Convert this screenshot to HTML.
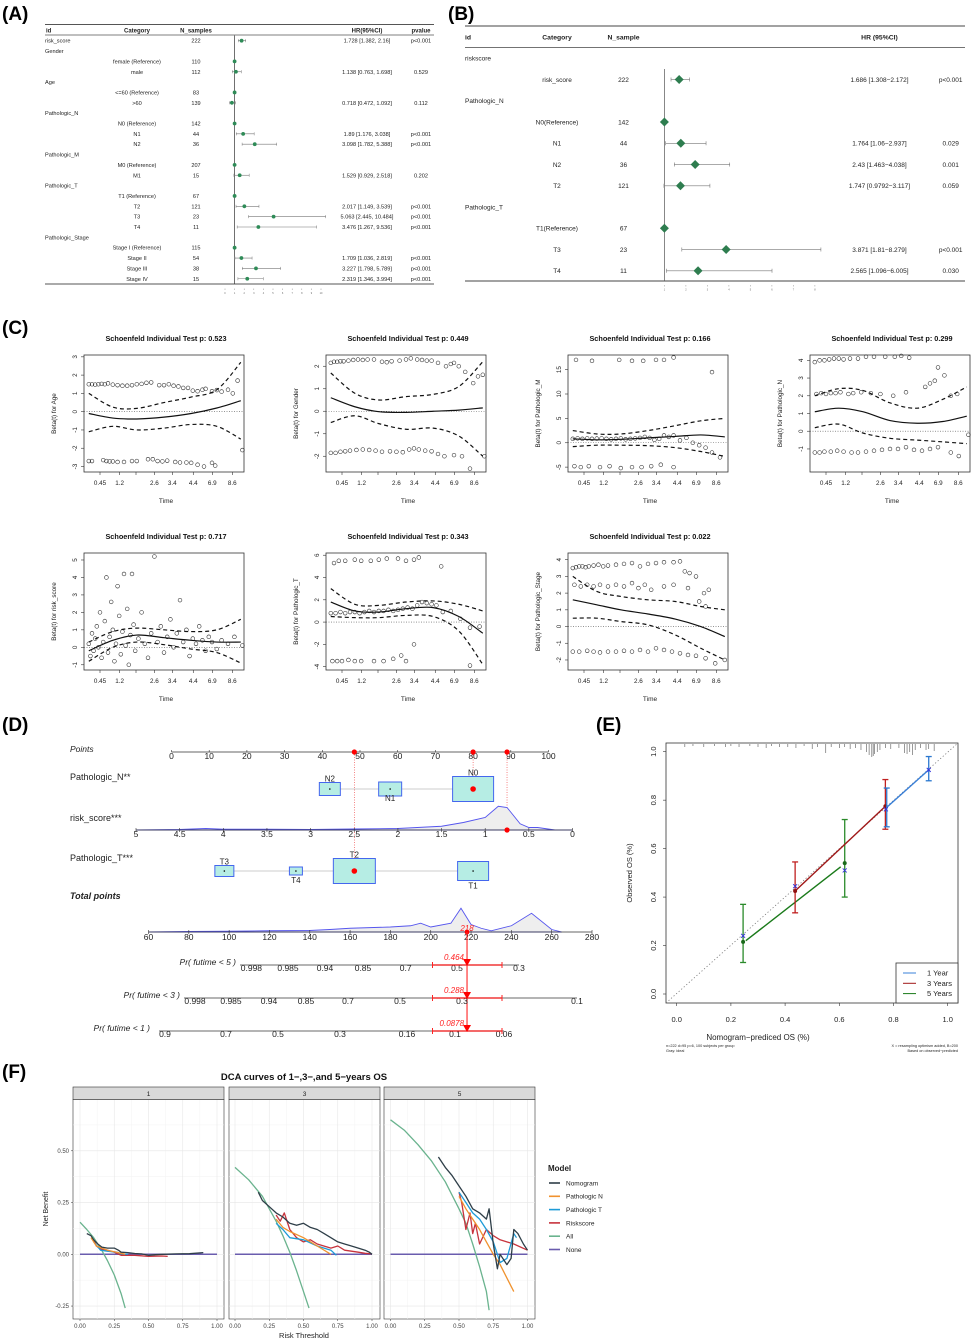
<!DOCTYPE html>
<html><head><meta charset="utf-8">
<style>
html,body{margin:0;padding:0;background:#fff;}
svg{display:block;font-family:"Liberation Sans",sans-serif;}
</style></head>
<body>
<svg id="fig" width="976" height="1340" viewBox="0 0 976 1340">
<rect x="0" y="0" width="976" height="1340" fill="#fff"/>
<text x="2" y="20" font-size="19" font-weight="bold">(A)</text>
<text x="448" y="20" font-size="19" font-weight="bold">(B)</text>
<text x="2" y="334" font-size="19" font-weight="bold">(C)</text>
<text x="2" y="731" font-size="19" font-weight="bold">(D)</text>
<text x="596" y="731" font-size="19" font-weight="bold">(E)</text>
<text x="2" y="1078" font-size="19" font-weight="bold">(F)</text>
</svg>
<script>
const NS='http://www.w3.org/2000/svg';
const svg=document.getElementById('fig');

/* ---------- Panel A data ---------- */
const aIds=['risk_score','Gender','','','Age','','','Pathologic_N','','','','Pathologic_M','','','Pathologic_T','','','','','Pathologic_Stage','','','',''];
const aCats=['','','female (Reference)','male','','<=60 (Reference)','>60','','N0 (Reference)','N1','N2','','M0 (Reference)','M1','','T1 (Reference)','T2','T3','T4','','Stage I (Reference)','Stage II','Stage III','Stage IV'];
const aN=['222','','110','112','','83','139','','142','44','36','','207','15','','67','121','23','11','','115','54','38','15'];
const aHR=[1.728,null,1,1.138,null,1,0.718,null,1,1.89,3.098,null,1,1.529,null,1,2.017,5.063,3.476,null,1,1.709,3.227,2.319];
const aLo=[1.382,null,null,0.763,null,null,0.472,null,null,1.176,1.782,null,null,0.929,null,null,1.149,2.445,1.267,null,null,1.036,1.798,1.346];
const aHi=[2.16,null,null,1.698,null,null,1.092,null,null,3.038,5.388,null,null,2.518,null,null,3.539,10.484,9.536,null,null,2.819,5.789,3.994];
const aHRtxt=['1.728 [1.382, 2.16]','','','1.138 [0.763, 1.698]','','','0.718 [0.472, 1.092]','','','1.89 [1.176, 3.038]','3.098 [1.782, 5.388]','','','1.529 [0.929, 2.518]','','','2.017 [1.149, 3.539]','5.063 [2.445, 10.484]','3.476 [1.267, 9.536]','','','1.709 [1.036, 2.819]','3.227 [1.798, 5.789]','2.319 [1.346, 3.994]'];
const aP=['p<0.001','','','0.529','','','0.112','','','p<0.001','p<0.001','','','0.202','','','p<0.001','p<0.001','p<0.001','','','p<0.001','p<0.001','p<0.001'];
const aTicks=[0,1,2,3,4,5,6,7,8,9,10];

/* ---------- Panel B data ---------- */
const bIds=['riskscore','','Pathologic_N','','','','','Pathologic_T','','',''];
const bCats=['','risk_score','','N0(Reference)','N1','N2','T2','','T1(Reference)','T3','T4'];
const bN=['','222','','142','44','36','121','','67','23','11'];
const bHR=[null,1.686,null,1,1.764,2.43,1.747,null,1,3.871,2.565];
const bLo=[null,1.308,null,null,1.06,1.463,0.9792,null,null,1.81,1.096];
const bHi=[null,2.172,null,null,2.937,4.038,3.117,null,null,8.279,6.005];
const bHRtxt=['','1.686 [1.308\u22122.172]','','','1.764 [1.06\u22122.937]','2.43 [1.463\u22124.038]','1.747 [0.9792\u22123.117]','','','3.871 [1.81\u22128.279]','2.565 [1.096\u22126.005]'];
const bP=['','p<0.001','','','0.029','0.001','0.059','','','p<0.001','0.030'];
const bTicks=[1,2,3,4,5,6,7,8];

/* ---------- Panel C data ---------- */
const cTitles=['0.523','0.449','0.166','0.299','0.717','0.343','0.022'];
const cVars=['Age','Gender','Pathologic_M','Pathologic_N','risk_score','Pathologic_T','Pathologic_Stage'];
const cYlim=[[-3.3,3.1],[-2.7,2.5],[-6,18],[-2.3,4.3],[-1.3,5.4],[-4.3,6.2],[-2.6,4.4]];
const cYticks=[[-3,-2,-1,0,1,2,3],[-2,-1,0,1,2],[-5,0,5,10,15],[-1,0,1,2,3,4],[-1,0,1,2,3,4,5],[-4,-2,0,2,4,6],[-2,-1,0,1,2,3,4]];
const cTimeLabels=['0.45','1.2','','2.6','3.4','4.4','6.9','8.6'];
const cTimeFrac=[0.10,0.223,0.325,0.44,0.552,0.683,0.802,0.927];
const cCurveX=[0.03,0.18,0.33,0.5,0.67,0.83,0.98];
const cSolid=[[-0.1,-0.35,-0.4,-0.3,-0.1,0.2,0.6],[0.6,0.2,-0.02,-0.05,0,0.05,0.15],[0.8,0.6,0.7,1.0,1.3,1.6,1.2],[1.1,1.3,1.1,0.6,0.45,0.55,0.85],[-0.2,0.4,0.7,0.55,0.4,0.3,0.3],[1.8,1.0,0.9,1.2,1.3,0.5,-1.0],[1.6,1.3,1.0,0.75,0.45,0.0,-0.6]];
const cUpper=[[1.0,0.25,0.18,0.5,0.8,1.2,2.7],[1.7,0.8,0.5,0.65,0.75,1.1,2.2],[2.5,1.8,1.8,2.5,3.5,4.5,5.0],[2.0,2.4,2.3,1.6,1.3,1.8,2.5],[0.3,0.9,1.1,1.0,0.9,1.0,1.6],[3.0,1.6,1.5,1.8,1.9,1.6,1.0],[3.0,2.1,1.8,1.6,1.5,1.2,1.0]];
const cLower=[[-1.1,-0.8,-1.0,-0.9,-0.7,-0.8,-1.5],[-0.5,-0.2,-0.55,-0.8,-0.75,-1.1,-2.0],[-0.8,-0.5,-0.5,-0.6,-1.0,-1.8,-2.8],[0.2,0.4,-0.1,-0.4,-0.5,-0.6,-0.7],[-0.8,0,0.3,0.15,-0.1,-0.3,-0.9],[0.5,0.4,0.4,0.6,0.5,-0.8,-3.8],[0.5,0.5,0.3,0.1,-0.5,-1.3,-2.0]];
const cPts=[
[[.03,1.5],[.05,1.5],[.07,1.48],[.09,1.5],[.11,1.52],[.13,1.5],[.15,1.55],[.18,1.48],[.21,1.45],[.24,1.42],[.27,1.42],[.3,1.45],[.33,1.5],[.36,1.52],[.39,1.58],[.42,1.6],[.47,1.45],[.5,1.45],[.53,1.5],[.56,1.42],[.59,1.38],[.62,1.3],[.65,1.3],[.68,1.15],[.71,1.12],[.74,1.2],[.76,1.25],[.8,1.12],[.83,1.18],[.86,1.1],[.9,1.2],[.93,1.0],[.96,1.7],
 [.03,-2.7],[.05,-2.7],[.12,-2.65],[.14,-2.7],[.16,-2.72],[.18,-2.72],[.21,-2.75],[.25,-2.75],[.3,-2.7],[.33,-2.7],[.4,-2.6],[.43,-2.6],[.46,-2.7],[.49,-2.72],[.52,-2.68],[.57,-2.75],[.6,-2.78],[.64,-2.78],[.67,-2.8],[.71,-2.9],[.75,-3.0],[.8,-2.8],[.82,-2.95],[.99,-2.1]],
[[.03,2.15],[.05,2.2],[.07,2.2],[.09,2.22],[.11,2.22],[.14,2.25],[.17,2.28],[.2,2.3],[.23,2.28],[.26,2.3],[.3,2.3],[.35,2.2],[.38,2.18],[.41,2.22],[.46,2.25],[.5,2.3],[.53,2.35],[.57,2.3],[.6,2.28],[.63,2.25],[.66,2.25],[.7,2.15],[.75,2.0],[.78,2.1],[.8,2.15],[.83,2.0],[.87,1.75],[.92,1.25],[.95,1.55],[.98,1.62],
 [.03,-1.85],[.06,-1.85],[.09,-1.8],[.12,-1.78],[.15,-1.75],[.19,-1.72],[.23,-1.7],[.27,-1.72],[.31,-1.75],[.35,-1.8],[.4,-1.78],[.44,-1.8],[.48,-1.82],[.52,-1.7],[.55,-1.65],[.58,-1.7],[.62,-1.75],[.66,-1.78],[.7,-1.9],[.74,-2.0],[.8,-1.95],[.85,-2.0],[.9,-2.55],[.99,-2.0]],
[[.05,17],[.15,16.8],[.32,17],[.4,16.8],[.47,16.8],[.55,17],[.6,17],[.66,17.5],[.9,14.5],
 [.03,0.8],[.06,0.9],[.09,0.8],[.12,0.9],[.15,0.8],[.18,0.85],[.21,0.9],[.24,0.8],[.27,0.7],[.3,0.8],[.33,0.9],[.36,0.7],[.39,0.8],[.42,0.9],[.45,1.0],[.48,1.2],[.51,1.0],[.54,0.6],[.57,0.8],[.6,1.5],[.63,1.2],[.66,1.5],[.7,0.5],[.74,1.0],[.78,0.0],[.82,-0.5],[.86,-1.0],[.9,-2.0],[.95,-3.0],
 [.04,-4.8],[.08,-5],[.13,-4.8],[.2,-5],[.26,-4.8],[.33,-5.2],[.4,-5],[.46,-5],[.52,-4.8],[.58,-4.5],[.66,-5]],
[[.03,3.9],[.06,4.0],[.09,4.0],[.12,4.05],[.15,4.1],[.18,4.1],[.21,4.05],[.25,4.1],[.3,4.1],[.35,4.2],[.4,4.2],[.47,4.2],[.53,4.2],[.57,4.25],[.62,4.15],[.8,3.6],[.84,3.15],
 [.04,2.1],[.07,2.15],[.1,2.1],[.13,2.15],[.16,2.15],[.19,2.2],[.24,2.1],[.27,2.15],[.32,2.2],[.38,2.15],[.44,2.1],[.52,2.0],[.6,2.2],[.72,2.5],[.75,2.7],[.78,2.85],[.88,2.0],[.92,2.1],
 [.03,-1.2],[.06,-1.2],[.09,-1.15],[.13,-1.15],[.17,-1.1],[.21,-1.15],[.26,-1.2],[.3,-1.2],[.35,-1.15],[.4,-1.1],[.45,-1.05],[.5,-1.0],[.55,-1.0],[.6,-0.9],[.65,-1.05],[.7,-1.1],[.75,-1.0],[.8,-0.9],[.88,-1.2],[.93,-1.4],[.99,-0.2]],
[[.03,0.2],[.04,-0.5],[.05,0.8],[.06,-0.2],[.07,0.5],[.08,1.2],[.09,0],[.1,2.0],[.11,-0.6],[.12,0.3],[.13,1.5],[.14,4.0],[.15,-0.3],[.16,0.6],[.17,2.6],[.18,1.0],[.19,-0.8],[.2,0.2],[.21,3.5],[.22,1.8],[.23,-0.4],[.24,0.9],[.25,4.2],[.26,0.1],[.27,2.2],[.28,-1.0],[.29,0.7],[.3,4.2],[.31,1.3],[.32,-0.2],[.34,0.5],[.36,2.0],[.38,0.2],[.4,-0.6],[.42,0.8],[.44,5.2],[.46,0.3],[.48,1.2],[.5,-0.3],[.52,0.6],[.54,1.6],[.56,0.0],[.58,0.8],[.6,2.7],[.62,0.3],[.64,1.0],[.66,-0.5],[.68,0.5],[.7,0.2],[.72,1.2],[.74,0.4],[.76,-0.2],[.78,0.6],[.8,0.3],[.83,-0.1],[.86,0.4],[.9,0.2],[.94,0.6],[.99,0.1]],
[[.05,5.3],[.08,5.5],[.12,5.5],[.18,5.6],[.22,5.5],[.28,5.5],[.33,5.6],[.38,5.7],[.45,5.7],[.5,5.5],[.55,5.6],[.58,5.8],[.72,5.0],
 [.03,0.8],[.06,0.8],[.09,0.9],[.12,0.8],[.15,0.9],[.18,0.9],[.21,0.8],[.24,0.9],[.27,1.0],[.3,0.9],[.33,1.0],[.36,1.0],[.39,1.1],[.42,1.0],[.45,1.1],[.48,1.2],[.51,1.3],[.54,1.2],[.57,1.5],[.6,1.8],[.63,1.7],[.66,1.6],[.69,1.5],[.73,0.9],[.78,1.0],[.84,0.3],[.9,-0.5],[.96,-0.4],
 [.04,-3.5],[.07,-3.5],[.1,-3.5],[.14,-3.4],[.18,-3.5],[.22,-3.5],[.3,-3.5],[.36,-3.5],[.42,-3.3],[.47,-3.0],[.5,-3.5],[.55,-2.0],[.9,-3.9]],
[[.03,3.5],[.05,3.55],[.07,3.6],[.09,3.6],[.11,3.55],[.13,3.6],[.16,3.65],[.19,3.7],[.22,3.6],[.25,3.65],[.3,3.7],[.35,3.75],[.4,3.8],[.45,3.6],[.5,3.75],[.55,3.8],[.6,3.85],[.66,3.85],[.7,3.9],[.73,3.3],[.76,3.2],[.8,3.0],[.85,2.0],[.88,2.2],
 [.04,2.5],[.08,2.4],[.12,2.5],[.16,2.4],[.2,2.5],[.25,2.4],[.3,2.5],[.35,2.4],[.4,2.6],[.44,2.3],[.48,2.5],[.52,2.2],[.6,2.4],[.66,2.5],[.75,2.3],[.82,1.5],[.86,1.2],
 [.03,-1.5],[.07,-1.5],[.12,-1.45],[.16,-1.5],[.2,-1.55],[.25,-1.5],[.3,-1.5],[.35,-1.45],[.4,-1.5],[.45,-1.4],[.5,-1.5],[.55,-1.3],[.6,-1.4],[.65,-1.5],[.7,-1.6],[.75,-1.7],[.8,-1.75],[.86,-1.9],[.92,-2.2],[.98,-2.0]]
];

/* ---------- Panel D data ---------- */
const dPointTicks=[0,10,20,30,40,50,60,70,80,90,100];
const dSelPoints=[48.5,80,89];
const dNLevels=['N2','N1','N0'];
const dNPoints=[42,58,80];
const dTLevels=['T3','T4','T2','T1'];
const dTPoints=[14021/1000*1,33,48.5,80];
const dRiskTicks=[5,4.5,4,3.5,3,2.5,2,1.5,1,0.5,0];
const dRiskDensX=[5,4.5,4.2,4,3.5,3,2.5,2,1.5,1.25,1,0.85,0.75,0.6,0.5,0.4,0.2,0];
const dRiskDensY=[0,0.02,0.06,0.03,0.03,0.02,0.04,0.06,0.15,0.3,0.5,0.95,0.9,0.25,0.1,0.1,0,0];
const dTotTicks=[60,80,100,120,140,160,180,200,220,240,260,280];
const dTotDensX=[60,80,100,120,140,150,160,180,190,195,200,210,215,220,225,230,240,250,260,265];
const dTotDensY=[0,0.02,0.03,0.05,0.06,0.1,0.15,0.2,0.25,0.35,0.2,0.35,0.95,0.3,0.15,0.05,0.25,0.75,0.1,0];
const dTotalSel=218;
const dPr5Labels=['0.998','0.985','0.94','0.85','0.7','0.5','0.3'];
const dPr3Labels=['0.998','0.985','0.94','0.85','0.7','0.5','0.3','0.1'];
const dPr1Labels=['0.9','0.7','0.5','0.3','0.16','0.1','0.06'];
const dPrValues=['0.464','0.288','0.0878'];

/* ---------- Panel E data ---------- */
const eTicks=[0,0.2,0.4,0.6,0.8,1.0];
const e1x=[0.245,0.437,0.62,0.772,0.93], e1y=[0.24,0.445,0.51,0.762,0.925];
const e1BarX=[0.775,0.93], e1BarLo=[0.69,0.88], e1BarHi=[0.85,0.98], e1LineX=[0.775,0.93], e1LineY=[0.77,0.925];
const e3x=[0.437,0.77], e3y=[0.425,0.775], e3Lo=[0.335,0.68], e3Hi=[0.545,0.885];
const e5x=[0.245,0.62], e5y=[0.215,0.54], e5Lo=[0.13,0.40], e5Hi=[0.37,0.72], e5LineX=[0.255,0.605], e5LineY=[0.22,0.525];
const eRug=[0.03,0.06,0.1,0.14,0.18,0.2,0.23,0.27,0.3,0.33,0.35,0.38,0.41,0.44,0.47,0.5,0.52,0.55,0.57,0.6,0.62,0.64,0.66,0.68,0.7,0.71,0.72,0.725,0.73,0.74,0.75,0.77,0.79,0.82,0.84,0.85,0.86,0.87,0.88,0.9,0.92,0.93,0.95];
const eRugLen=[3,2,3,2,3,2,3,2,3,4,2,3,3,4,2,5,3,9,3,4,3,5,4,6,8,11,13,12,10,8,6,4,5,4,9,10,8,11,6,4,6,5,7];

/* ---------- Panel F data ---------- */
const fFacets=['1','3','5'];
const fModels=['Nomogram','Pathologic N','Pathologic T','Riskscore','All','None'];
const fColors=['#2e3e48','#f0922e','#1e9bd7','#c7333c','#6ab38e','#6a5cae'];
const fXTicks=[0,0.25,0.5,0.75,1.0];
const fYTicks=[-0.25,0,0.25,0.5];
const f1=[
 [[.05,.1],[.08,.09],[.1,.07],[.13,.05],[.16,.035],[.2,.03],[.25,.03],[.28,.02],[.3,.01],[.35,.008],[.4,.004],[.45,.002],[.5,-.005],[.55,-.002],[.6,0],[.7,.002],[.8,.003],[.9,.008]],
 [[.08,.08],[.12,.04],[.2,.02],[.25,.012],[.3,.005],[.33,0]],
 [[.1,.06],[.15,.02],[.2,.015],[.27,.01],[.3,.002],[.35,0]],
 [[.1,.07],[.12,.04],[.15,.025],[.2,.02],[.25,.01],[.3,-.005],[.4,-.005],[.5,-.01],[.6,-.008],[.64,-.01]],
 [[0,.155],[.05,.12],[.1,.08],[.15,.03],[.2,-.03],[.25,-.1],[.3,-.19],[.33,-.26]],
 [[0,0],[1,0]]];
const f3=[
 [[.17,.3],[.2,.26],[.25,.23],[.3,.2],[.35,.18],[.4,.15],[.45,.14],[.5,.15],[.55,.13],[.6,.12],[.65,.1],[.7,.08],[.75,.06],[.8,.05],[.85,.04],[.9,.03],[.95,.02],[.98,.01],[1,0]],
 [[.3,.17],[.35,.13],[.4,.11],[.5,.08],[.6,.04],[.7,0]],
 [[.3,.15],[.35,.12],[.4,.08],[.5,.07],[.6,.04],[.7,.02],[.74,-.005]],
 [[.3,.19],[.33,.16],[.36,.2],[.4,.12],[.45,.08],[.5,.06],[.55,.07],[.6,.05],[.7,.03],[.75,.04],[.8,.02],[.9,.01],[.95,.005],[1,.002]],
 [[0,.42],[.1,.36],[.2,.28],[.25,.22],[.3,.16],[.35,.09],[.4,.01],[.45,-.08],[.5,-.18],[.54,-.26]],
 [[0,0],[1,0]]];
const f5=[
 [[.35,.47],[.4,.42],[.45,.38],[.5,.33],[.55,.28],[.6,.22],[.65,.2],[.7,.17],[.72,.22],[.75,.05],[.78,-.07],[.8,0],[.85,-.05],[.88,-.02],[.9,.12],[.93,.1],[.97,.05],[1,.02]],
 [[.5,.28],[.55,.22],[.6,.17],[.65,.12],[.7,.06],[.75,0],[.8,-.05],[.9,-.18]],
 [[.5,.3],[.55,.25],[.6,.2],[.65,.17],[.7,.12],[.75,.06],[.8,-.04],[.85,-.02],[.9,.1],[.92,.08]],
 [[.5,.3],[.52,.25],[.55,.12],[.58,.2],[.6,.1],[.62,.15],[.65,.05],[.7,.12],[.75,.09],[.8,.07],[.9,.05],[1,.02]],
 [[0,.65],[.1,.6],[.2,.53],[.3,.45],[.4,.35],[.5,.22],[.55,.15],[.6,.05],[.65,-.06],[.7,-.18],[.72,-.27]],
 [[0,0],[1,0]]];

/* ---------- helpers ---------- */
function mk(tag,attrs,name,text){
  const el=document.createElementNS(NS,tag);
  for(const k in attrs) el.setAttribute(k,attrs[k]);
  
  
  if(text!==undefined) el.textContent=text;
  svg.appendChild(el);
  return el;
}
function T(x,y,s,size,name,o){o=o||{};
  const a={x:x,y:y,'font-size':size,fill:o.f||'#222','text-anchor':o.a||'start'};
  if(o.b)a['font-weight']='bold'; if(o.i)a['font-style']='italic'; if(o.t)a.transform=o.t;
  return mk('text',a,name,s);}
function L(x1,y1,x2,y2,c,w,name,dash){const a={x1:x1,y1:y1,x2:x2,y2:y2,stroke:c,'stroke-width':w};if(dash)a['stroke-dasharray']=dash;return mk('line',a,name);}
function PL(pts,c,w,name,dash){const a={points:pts.map(p=>p[0].toFixed(1)+','+p[1].toFixed(1)).join(' '),fill:'none',stroke:c,'stroke-width':w,'stroke-linejoin':'round'};if(dash)a['stroke-dasharray']=dash;return mk('polyline',a,name);}
function smooth(pts){let d='M'+pts[0][0]+','+pts[0][1];
  for(let i=0;i<pts.length-1;i++){const p0=pts[Math.max(0,i-1)],p1=pts[i],p2=pts[i+1],p3=pts[Math.min(pts.length-1,i+2)];
    d+=' C'+(p1[0]+(p2[0]-p0[0])/6)+','+(p1[1]+(p2[1]-p0[1])/6)+' '+(p2[0]-(p3[0]-p1[0])/6)+','+(p2[1]-(p3[1]-p1[1])/6)+' '+p2[0]+','+p2[1];}
  return d;}

/* ---------- Panel A ---------- */
(function(){
  const xA=v=>225+v*9.6, y0=40.7, dy=10.35;
  L(45,24.5,434,24.5,'#555',1,'table-a-top-rule');
  L(45,35,434,35,'#555',0.8,'table-a-header-rule');
  L(45,284,434,284,'#555',1,'table-a-bottom-rule');
  T(46,32.5,'id',6,'col-a-id',{b:1});
  T(137,32.5,'Category',6,'col-a-category',{b:1,a:'middle'});
  T(196,32.5,'N_samples',6,'col-a-n',{b:1,a:'middle'});
  T(367,32.5,'HR(95%CI)',6,'col-a-hr',{b:1,a:'middle'});
  T(421,32.5,'pvalue',6,'col-a-pvalue',{b:1,a:'middle'});
  L(xA(1),35.5,xA(1),284,'#333',0.7,'forest-a-reference-line');
  for(let i=0;i<aIds.length;i++){
    const y=y0+i*dy;
    if(aIds[i]) T(45,y+2,aIds[i],5.6,'row-a-id');
    if(aCats[i]) T(137,y+2,aCats[i],5.6,'row-a-category',{a:'middle'});
    if(aN[i]) T(196,y+2,aN[i],5.6,'row-a-n',{a:'middle'});
    if(aHRtxt[i]) T(367,y+2,aHRtxt[i],5.6,'row-a-hr',{a:'middle'});
    if(aP[i]) T(421,y+2,aP[i],5.6,'row-a-pvalue',{a:'middle'});
    if(aLo[i]!==null){L(xA(aLo[i]),y,xA(aHi[i]),y,'#777',0.6,'ci-a');L(xA(aLo[i]),y-1.5,xA(aLo[i]),y+1.5,'#777',0.5,'ci-a-cap');L(xA(aHi[i]),y-1.5,xA(aHi[i]),y+1.5,'#777',0.5,'ci-a-cap');}
    if(aHR[i]!==null) mk('circle',{cx:xA(aHR[i]),cy:y,r:1.9,fill:'#2e8b57'},'hr-a-point');
  }
  aTicks.forEach(t=>{L(xA(t),288.5,xA(t),290,'#777',0.4,'a-tick');T(xA(t),294,String(t),2.5,'a-tick-label',{a:'middle',f:'#666'});});
})();

/* ---------- Panel B ---------- */
(function(){
  const xB=v=>664.4+(v-1)*21.5, y0=58.3, dy=21.25;
  L(465,26,965,26,'#444',1,'table-b-top-rule');
  L(465,47.5,965,47.5,'#444',0.8,'table-b-header-rule');
  L(465,281,965,281,'#444',1,'table-b-bottom-rule');
  T(465,39.5,'id',6.8,'col-b-id',{b:1});
  T(557,39.5,'Category',6.8,'col-b-category',{b:1,a:'middle'});
  T(623.5,39.5,'N_sample',6.8,'col-b-n',{b:1,a:'middle'});
  T(879.5,39.5,'HR (95%CI)',6.8,'col-b-hr',{b:1,a:'middle'});
  L(xB(1),69,xB(1),281,'#555',0.7,'forest-b-reference-line');
  for(let i=0;i<bIds.length;i++){
    const y=y0+i*dy;
    if(bIds[i]) T(465,y+2.3,bIds[i],6.5,'row-b-id');
    if(bCats[i]) T(557,y+2.3,bCats[i],6.5,'row-b-category',{a:'middle'});
    if(bN[i]) T(623.5,y+2.3,bN[i],6.5,'row-b-n',{a:'middle'});
    if(bHRtxt[i]) T(879.5,y+2.3,bHRtxt[i],6.5,'row-b-hr',{a:'middle'});
    if(bP[i]) T(950.7,y+2.3,bP[i],6.5,'row-b-pvalue',{a:'middle'});
    if(bLo[i]!==null){L(xB(bLo[i]),y,xB(bHi[i]),y,'#777',0.7,'ci-b');L(xB(bLo[i]),y-2,xB(bLo[i]),y+2,'#777',0.6,'ci-b-cap');L(xB(bHi[i]),y-2,xB(bHi[i]),y+2,'#777',0.6,'ci-b-cap');}
    if(bHR[i]!==null){const x=xB(bHR[i]);mk('polygon',{points:`${x-4.5},${y} ${x},${y-4.5} ${x+4.5},${y} ${x},${y+4.5}`,fill:'#2e7d4f'},'hr-b-diamond');}
  }
  bTicks.forEach(t=>{L(xB(t),285,xB(t),286.5,'#777',0.4,'b-tick');T(xB(t),290.5,String(t),2.5,'b-tick-label',{a:'middle',f:'#666'});});
})();

/* ---------- Panel C ---------- */
(function(){
  const lefts=[84,326,568,810], tops=[355,553], W=160, H=117;
  for(let k=0;k<7;k++){
    const L0=lefts[k%4], T0=tops[Math.floor(k/4)];
    const [lo,hi]=cYlim[k];
    const yS=v=>T0+H-(v-lo)/(hi-lo)*H, xS=f=>L0+f*W;
    T(L0+82,T0-14,'Schoenfeld Individual Test p: '+cTitles[k],7.3,'schoenfeld-title',{b:1,a:'middle',f:'#111'});
    mk('rect',{x:L0,y:T0,width:W,height:H,fill:'none',stroke:'#333','stroke-width':0.8},'schoenfeld-plot-box');
    L(L0,yS(0),L0+W,yS(0),'#555',0.6,'zero-reference-line','1,1.5');
    cYticks[k].forEach(t=>{const y=yS(t);L(L0-3,y,L0,y,'#333',0.6,'y-tick');T(L0-7,y,String(t),6.3,'y-tick-label',{a:'middle',t:`rotate(-90 ${L0-7} ${y})`});});
    cTimeFrac.forEach((f,i)=>{const x=xS(f);L(x,T0+H,x,T0+H+3,'#333',0.6,'x-tick');if(cTimeLabels[i])T(x,T0+H+13,cTimeLabels[i],6.3,'x-tick-label',{a:'middle'});});
    T(L0+82,T0+H+31,'Time',6.5,'x-axis-title',{a:'middle'});
    const yl=L0-28, ym=T0+H/2;
    T(yl,ym,'Beta(t) for '+cVars[k],6.3,'y-axis-title',{a:'middle',t:`rotate(-90 ${yl} ${ym})`});
    cPts[k].forEach(p=>mk('circle',{cx:xS(p[0]),cy:yS(p[1]),r:1.9,fill:'none',stroke:'#222','stroke-width':0.55},'residual-point'));
    const mkc=(arr,dash,name)=>mk('path',{d:smooth(arr.map((v,i)=>[xS(cCurveX[i]),yS(v)])),fill:'none',stroke:'#111','stroke-width':1.2,'stroke-dasharray':dash||'none'},name);
    mkc(cSolid[k],null,'beta-fit-line');
    mkc(cUpper[k],'4,3','beta-upper-ci');
    mkc(cLower[k],'4,3','beta-lower-ci');
  }
})();

/* ---------- Panel D ---------- */
(function(){
  const px=v=>171.5+v*3.77;
  T(70,752,'Points',8.5,'nomogram-points-label',{i:1});
  L(px(0),752,px(100),752,'#333',0.8,'points-axis');
  dPointTicks.forEach(t=>{L(px(t),750,px(t),752,'#333',0.6,'points-tick');T(px(t),759,String(t),8.5,'points-tick-label',{a:'middle'});});
  // dotted red guides
  L(px(dSelPoints[0]),752,px(dSelPoints[0]),871,'#e33',0.6,'guide-pathologic-t','1,1.5');
  L(px(dSelPoints[1]),752,px(dSelPoints[1]),789,'#e33',0.6,'guide-pathologic-n','1,1.5');
  L(px(dSelPoints[2]),752,px(dSelPoints[2]),830,'#e33',0.6,'guide-risk-score','1,1.5');
  dSelPoints.forEach(v=>mk('circle',{cx:px(v),cy:752,r:2.6,fill:'#f00'},'selected-points-dot'));

  T(70,780,'Pathologic_N**',9,'pathologic-n-label');
  L(px(dNPoints[0]),789,px(dNPoints[2]),789,'#ccc',1,'pathologic-n-line');
  const nSz=[[21,13],[23,14],[41,25]];
  dNLevels.forEach((lv,i)=>{const x=px(dNPoints[i]);const [w,h]=nSz[i];
    mk('rect',{x:x-w/2,y:789-h/2,width:w,height:h,fill:'#b6ede4',stroke:'#4466ee','stroke-width':1},'pathologic-n-box');
    mk('circle',{cx:x,cy:789,r:i==2?2.8:0.8,fill:i==2?'#f00':'#000'},'pathologic-n-center');
    T(x,i==1?801:789-h/2-1,lv,8,'pathologic-n-level',{a:'middle'});});

  T(70,821,'risk_score***',9,'risk-score-label');
  const rx=v=>136+(5-v)/5*436.5;
  mk('path',{d:'M'+dRiskDensX.map((v,i)=>rx(v)+','+(830-dRiskDensY[i]*25)).join(' L')+' Z',fill:'#eee',stroke:'#5555ee','stroke-width':0.9},'risk-score-density');
  L(rx(5),830,rx(0),830,'#333',0.8,'risk-score-axis');
  dRiskTicks.forEach(t=>{L(rx(t),828,rx(t),832,'#333',0.6,'risk-tick');T(rx(t),837,String(t),8.5,'risk-tick-label',{a:'middle'});});
  mk('circle',{cx:px(dSelPoints[2]),cy:830,r:2.6,fill:'#f00'},'risk-score-selected');

  T(70,861,'Pathologic_T***',9,'pathologic-t-label');
  L(px(dTPoints[0]),871,px(dTPoints[3]),871,'#ccc',1,'pathologic-t-line');
  const tSz=[[19,11],[13,8],[42,25],[31,19]];
  dTLevels.forEach((lv,i)=>{const x=px(dTPoints[i]);const [w,h]=tSz[i];
    mk('rect',{x:x-w/2,y:871-h/2,width:w,height:h,fill:'#b6ede4',stroke:'#4466ee','stroke-width':1},'pathologic-t-box');
    mk('circle',{cx:x,cy:871,r:i==2?2.8:0.8,fill:i==2?'#f00':'#000'},'pathologic-t-center');
    T(x,(i==1||i==3)?871+h/2+8:871-h/2-1,lv,8,'pathologic-t-level',{a:'middle'});});

  T(70,899,'Total points',9,'total-points-label',{b:1,i:1});
  const tx=v=>148.5+(v-60)*2.016;
  mk('path',{d:'M'+dTotDensX.map((v,i)=>tx(v)+','+(932-dTotDensY[i]*25)).join(' L')+' Z',fill:'#eee',stroke:'#5555ee','stroke-width':0.9},'total-points-density');
  L(tx(60),932,tx(280),932,'#333',0.8,'total-points-axis');
  dTotTicks.forEach(t=>{L(tx(t),930,tx(t),934,'#333',0.6,'total-tick');T(tx(t),940,String(t),8.5,'total-tick-label',{a:'middle'});});
  const xs=tx(dTotalSel);
  T(xs,931,String(dTotalSel),8,'total-points-value',{a:'middle',f:'#f22',i:1});
  mk('circle',{cx:xs,cy:932,r:2.4,fill:'#f00'},'total-selected-dot');
  L(xs,932,xs,1031,'#f22',1.1,'total-to-probability-line');

  const prAxes=[[965,'Pr( futime < 5 )',236,dPr5Labels,[251.4,288,325,363,405.7,457,519],240,519],
                [998,'Pr( futime < 3 )',180,dPr3Labels,[195,231,269,306,348,400,462,577],184,577],
                [1031,'Pr( futime < 1 )',150,dPr1Labels,[165,226,278,340,407,455,504],159,504]];
  prAxes.forEach((a,j)=>{const [y,lab,lx,labs,pos,x1,x2]=a;
    T(lx,y,lab,8.5,'probability-axis-label',{a:'end',i:1});
    L(x1,y,x2,y,'#888',1.2,'probability-axis');
    labs.forEach((s,i)=>{T(pos[i],y+6,s,8.5,'probability-tick-label',{a:'middle'});});
    L(432.5,y,502,y,'#f22',1.3,'probability-interval');
    L(432.5,y-3,432.5,y+3,'#f22',1,'probability-interval-cap');L(502,y-3,502,y+3,'#f22',1,'probability-interval-cap');
    mk('polygon',{points:`${xs-4},${y-6} ${xs+4},${y-6} ${xs},${y+1}`,fill:'#f00'},'probability-marker');
    T(xs-3,y-5,dPrValues[j],8,'probability-value',{a:'end',f:'#f22',i:1});
  });
})();

/* ---------- Panel E ---------- */
(function(){
  const ex=v=>676.7+v*271, ey=v=>994-v*242.3;
  mk('rect',{x:666,y:743,width:292,height:260,fill:'none',stroke:'#333','stroke-width':0.8},'calibration-plot-box');
  eTicks.forEach(t=>{L(ex(t),1003,ex(t),1006,'#333',0.6,'e-x-tick');T(ex(t),1022,t.toFixed(1),7.5,'e-x-tick-label',{a:'middle'});
    L(663,ey(t),666,ey(t),'#333',0.6,'e-y-tick');T(656,ey(t),t.toFixed(1),7.5,'e-y-tick-label',{a:'middle',t:`rotate(-90 656 ${ey(t)})`});});
  T(758,1040,'Nomogram\u2212prediced OS (%)',8,'e-x-axis-title',{a:'middle'});
  T(632,873,'Observed OS (%)',7.5,'e-y-axis-title',{a:'middle',t:'rotate(-90 632 873)'});
  T(666,1047,'n=222 d=95 p=6, 100 subjects per group',3.8,'e-footnote-n');
  T(666,1052,'Gray: ideal',3.8,'e-footnote-gray');
  T(958,1047,'X = resampling optimism added, B=200',3.8,'e-footnote-x',{a:'end'});
  T(958,1052,'Based on observed\u2212predicted',3.8,'e-footnote-based',{a:'end'});
  L(666,1003,958,743,'#777',0.8,'ideal-diagonal','1.2,2.2');
  eRug.forEach((v,i)=>L(ex(v),744,ex(v),744+eRugLen[i],'#555',0.6,'prediction-rug'));
  const bar=(x,lo,hi,c,n)=>{L(ex(x),ey(lo),ex(x),ey(hi),c,1.3,n);L(ex(x)-3,ey(lo),ex(x)+3,ey(lo),c,1.3,n+'-cap');L(ex(x)-3,ey(hi),ex(x)+3,ey(hi),c,1.3,n+'-cap');};
  e5x.forEach((x,i)=>bar(x,e5Lo[i],e5Hi[i],'#2a8a2a','errorbar-5-years'));
  PL(e5LineX.map((x,i)=>[ex(x),ey(e5LineY[i])]),'#1a7a1a',1.4,'line-5-years');
  e5x.forEach((x,i)=>mk('circle',{cx:ex(x),cy:ey(e5y[i]),r:2,fill:'#1a6a1a'},'point-5-years'));
  e3x.forEach((x,i)=>bar(x,e3Lo[i],e3Hi[i],'#c02020','errorbar-3-years'));
  PL(e3x.map((x,i)=>[ex(x),ey(e3y[i])]),'#a01818',1.4,'line-3-years');
  e3x.forEach((x,i)=>mk('circle',{cx:ex(x),cy:ey(e3y[i]),r:2,fill:'#901010'},'point-3-years'));
  e1BarX.forEach((x,i)=>bar(x,e1BarLo[i],e1BarHi[i],'#2a78d0','errorbar-1-year'));
  PL(e1LineX.map((x,i)=>[ex(x),ey(e1LineY[i])]),'#3a80d8',1.4,'line-1-year');
  e1x.forEach((x,i)=>{const X=ex(x),Y=ey(e1y[i]);L(X-2,Y-2,X+2,Y+2,'#3333dd',0.9,'x-marker-1-year');L(X-2,Y+2,X+2,Y-2,'#3333dd',0.9,'x-marker-1-year');});
  mk('rect',{x:896,y:963,width:62,height:40,fill:'#fff',stroke:'#333','stroke-width':0.8},'e-legend-box');
  [['1 Year','#3a80d8'],['3 Years','#a01818'],['5 Years','#1a7a1a']].forEach((e,i)=>{const y=973+i*10.3;
    L(903,y,916,y,e[1],1,'e-legend-line');T(927,y+2.6,e[0],7.5,'e-legend-entry');});
})();

/* ---------- Panel F ---------- */
(function(){
  T(304,1080,'DCA curves of 1\u2212,3\u2212,and 5\u2212years OS',9.5,'dca-title',{b:1,a:'middle',f:'#111'});
  const fl=[73,229,384], fw=151, zero=[80,235,390.5], sc=137;
  const fy=v=>1254.3-v*207;
  const data=[f1,f3,f5];
  for(let k=0;k<3;k++){
    const L0=fl[k];
    mk('rect',{x:L0,y:1087,width:fw,height:12.5,fill:'#d9d9d9',stroke:'#333','stroke-width':0.6},'facet-strip');
    T(L0+fw/2,1096,fFacets[k],6.5,'facet-strip-label',{a:'middle'});
    mk('rect',{x:L0,y:1099.5,width:fw,height:219.5,fill:'#fff',stroke:'#333','stroke-width':0.6},'facet-panel');
    const fx=v=>zero[k]+v*sc;
    [0.125,0.375,0.625,0.875].forEach(v=>L(fx(v),1100,fx(v),1319,'#f3f3f3',0.5,'minor-grid'));
    [-0.125,0.125,0.375,0.625].forEach(v=>L(L0,fy(v),L0+fw,fy(v),'#f3f3f3',0.5,'minor-grid'));
    fXTicks.forEach(v=>{L(fx(v),1100,fx(v),1319,'#e6e6e6',0.6,'major-grid');L(fx(v),1319,fx(v),1321,'#333',0.5,'f-x-tick');T(fx(v),1328,v.toFixed(2),6,'f-x-tick-label',{a:'middle',f:'#444'});});
    fYTicks.forEach(v=>L(L0,fy(v),L0+fw,fy(v),'#e6e6e6',0.6,'major-grid'));
    const order=[5,4,3,2,1,0];
    order.forEach(m=>PL(data[k][m].map(p=>[fx(p[0]),fy(p[1])]),fColors[m],m==5?1.5:1.3,'dca-'+fModels[m].toLowerCase().replace(' ','-')));
  }
  fYTicks.forEach(v=>{L(71,fy(v),73,fy(v),'#333',0.5,'f-y-tick');T(69,fy(v)+2,v.toFixed(2),6,'f-y-tick-label',{a:'end',f:'#444'});});
  T(48,1209,'Net Benefit',7,'f-y-axis-title',{a:'middle',t:'rotate(-90 48 1209)'});
  T(304,1338,'Risk Threshold',7.5,'f-x-axis-title',{a:'middle'});
  T(548,1171,'Model',8,'f-legend-title',{b:1});
  fModels.forEach((m,i)=>{const y=1183+i*13.3;L(549,y,560,y,fColors[i],1.6,'f-legend-key');T(566,y+2.4,m,6.5,'f-legend-entry');});
})();
</script>
</body></html>
